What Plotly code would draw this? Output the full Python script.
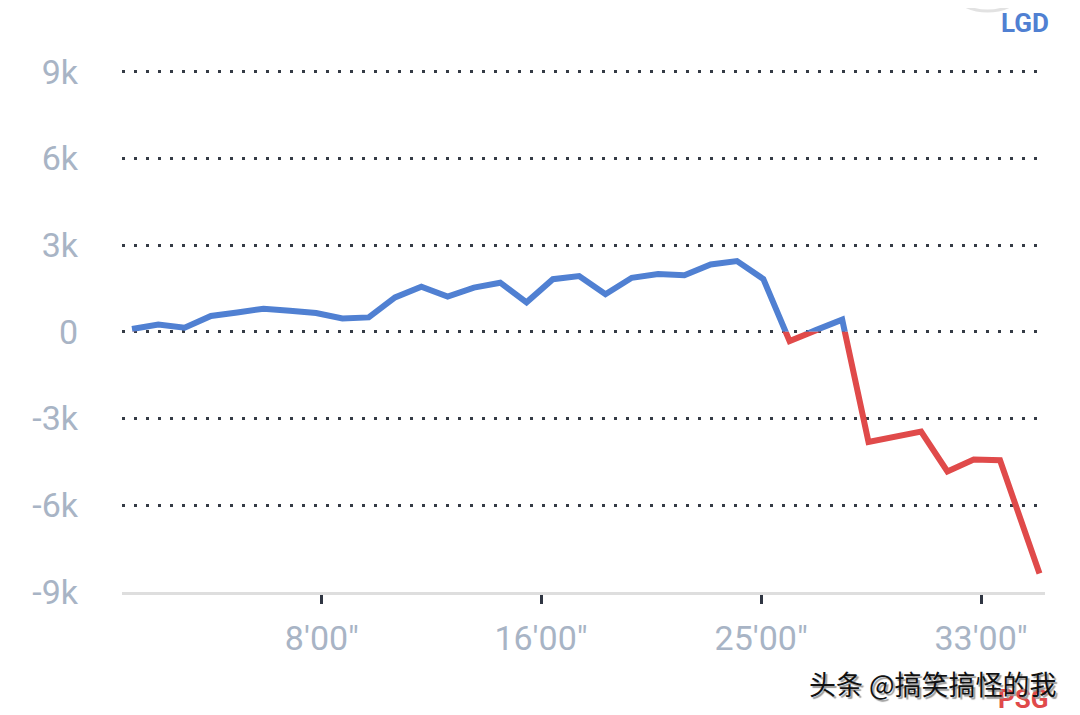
import plotly.graph_objects as go

# ---- data ----
minutes = [1, 2, 3, 4, 5, 6, 7, 8, 9, 10, 11, 12, 13, 14, 15, 16, 17, 18,
           19, 20, 21, 22, 23, 24, 25, 26, 27, 28, 29, 30, 31, 32, 33, 34, 35.5]
gold_diff = [0.10, 0.25, 0.14, 0.55, 0.67, 0.80, 0.73, 0.65, 0.46, 0.50,
             1.19, 1.56, 1.22, 1.53, 1.70, 1.02, 1.82, 1.93, 1.30, 1.87,
             2.00, 1.96, 2.33, 2.45, 1.83, -0.32, 0.06, 0.42, -3.81, -3.63,
             -3.45, -4.83, -4.42, -4.44, -8.36]
gold_diff = [v * 1000 for v in gold_diff]

y_tick_vals = [9000, 6000, 3000, 0, -3000, -6000, -9000]
y_tick_text = ["9k", "6k", "3k", "0", "-3k", "-6k", "-9k"]
x_tick_vals = [8.22, 16.55, 24.92, 33.28]
x_tick_text = ["8'00\"", "16'00\"", "25'00\"", "33'00\""]

BLUE = "#5080d2"
RED = "#e04a4a"
LABEL = "#a8b4c5"

Y_MIN, Y_MAX = -9000, 9750
X_MIN, X_MAX = 0.62, 35.71
split = (0 - Y_MIN) / (Y_MAX - Y_MIN)

fig = go.Figure()
# invisible trace on the main axes (carries gridlines / tick labels)
fig.add_trace(go.Scatter(x=minutes, y=gold_diff, mode="lines", xaxis="x", yaxis="y",
                         line=dict(color="rgba(0,0,0,0)", width=0), hoverinfo="skip",
                         showlegend=False))
# blue part (above zero) clipped by its own subplot area
fig.add_trace(go.Scatter(x=minutes, y=gold_diff, mode="lines", xaxis="x", yaxis="y2",
                         line=dict(color=BLUE, width=6), hoverinfo="skip", showlegend=False))
# red part (below zero)
fig.add_trace(go.Scatter(x=minutes, y=gold_diff, mode="lines", xaxis="x", yaxis="y3",
                         line=dict(color=RED, width=6), hoverinfo="skip", showlegend=False))

# page body has an 8px margin: shift everything by that
OFF = 8
W, H = 1080 - OFF, 715 - OFF
L, T = 122 - OFF, 50 - OFF
R = W - (1045 - OFF)
B = H - (592 - OFF)
pw, ph = W - L - R, H - T - B

def px2paper(px, py):
    # px, py in window pixels
    return (px - OFF - L) / pw, (H - B - (py - OFF)) / ph

c0 = px2paper(935, -95)
c1 = px2paper(1040, 11)

fig.update_layout(
    width=W, height=H,
    margin=dict(l=L, r=R, t=T, b=B, autoexpand=False),
    paper_bgcolor="white", plot_bgcolor="rgba(0,0,0,0)",
    showlegend=False,
    xaxis=dict(range=[X_MIN, X_MAX], tickvals=x_tick_vals, ticktext=x_tick_text,
               showgrid=False, zeroline=False, showline=True, linecolor="#dedede",
               linewidth=3, ticks="outside", ticklen=9, tickwidth=3, tickcolor="#2f3542",
               tickfont=dict(family="Roboto", size=34, color=LABEL),
               ticklabelstandoff=5, anchor="y", fixedrange=True, automargin=False),
    yaxis=dict(range=[Y_MIN, Y_MAX], tickvals=y_tick_vals, ticktext=y_tick_text,
               showgrid=True, gridcolor="#353b45", gridwidth=3, griddash="3px,9px",
               zeroline=False, showline=False, ticks="",
               tickfont=dict(family="Roboto", size=34, color=LABEL),
               ticklabelstandoff=43, domain=[0, 1], fixedrange=True, automargin=False),
    yaxis2=dict(range=[0, Y_MAX], domain=[split, 1], visible=False, showgrid=False,
                zeroline=False, fixedrange=True, automargin=False),
    yaxis3=dict(range=[Y_MIN, 0], domain=[0, split], visible=False, showgrid=False,
                zeroline=False, fixedrange=True, automargin=False),
    shapes=[dict(type="circle", xref="paper", yref="paper",
                 x0=c0[0], y0=c0[1], x1=c1[0], y1=c1[1],
                 fillcolor="white", line=dict(color="#e2e2e2", width=3), layer="below")],
    annotations=[
        dict(text="<b>LGD</b>", xref="paper", yref="paper",
             x=px2paper(1025, 23)[0], y=px2paper(1025, 23)[1],
             showarrow=False, font=dict(family="Roboto", size=26, color=BLUE),
             xanchor="center", yanchor="middle"),
        dict(text="<b>PSG</b>", xref="paper", yref="paper",
             x=px2paper(1023, 699)[0], y=px2paper(1023, 699)[1],
             showarrow=False, font=dict(family="Roboto", size=26, color=RED),
             xanchor="center", yanchor="middle"),
        dict(text="头条 @搞笑搞怪的我", xref="paper", yref="paper",
             x=px2paper(933, 683)[0], y=px2paper(933, 683)[1],
             showarrow=False,
             font=dict(family="Noto Sans CJK SC", size=27, color="#111111",
                       shadow="2px 2px 1px #9a9a9a"),
             xanchor="center", yanchor="middle"),
    ],
)

fig.write_html("out.html")
